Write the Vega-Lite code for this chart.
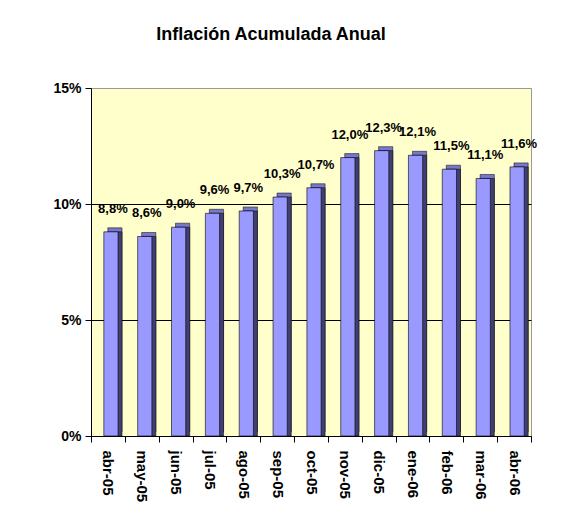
{
  "$schema": "https://vega.github.io/schema/vega-lite/v6.json",
  "width": 440,
  "height": 348,
  "autosize": "none",
  "padding": {"left": 91, "top": 88, "right": 32, "bottom": 77},
  "background": "white",
  "title": {
    "text": "Inflación Acumulada Anual",
    "font": "Liberation Sans",
    "fontSize": 18,
    "fontWeight": "bold",
    "color": "black",
    "anchor": "middle",
    "dx": -40,
    "offset": 37
  },
  "data": {
    "values": [
      {"mes": "abr-05", "valor": 8.8, "etiqueta": "8,8%"},
      {"mes": "may-05", "valor": 8.6, "etiqueta": "8,6%"},
      {"mes": "jun-05", "valor": 9.0, "etiqueta": "9,0%"},
      {"mes": "jul-05", "valor": 9.6, "etiqueta": "9,6%"},
      {"mes": "ago-05", "valor": 9.7, "etiqueta": "9,7%"},
      {"mes": "sep-05", "valor": 10.3, "etiqueta": "10,3%"},
      {"mes": "oct-05", "valor": 10.7, "etiqueta": "10,7%"},
      {"mes": "nov-05", "valor": 12.0, "etiqueta": "12,0%"},
      {"mes": "dic-05", "valor": 12.3, "etiqueta": "12,3%"},
      {"mes": "ene-06", "valor": 12.1, "etiqueta": "12,1%"},
      {"mes": "feb-06", "valor": 11.5, "etiqueta": "11,5%"},
      {"mes": "mar-06", "valor": 11.1, "etiqueta": "11,1%"},
      {"mes": "abr-06", "valor": 11.6, "etiqueta": "11,6%"}
    ]
  },
  "encoding": {
    "x": {
      "field": "mes",
      "type": "nominal",
      "sort": null,
      "scale": {"paddingInner": 0, "paddingOuter": 0},
      "axis": {
        "title": null,
        "labelAngle": 90,
        "labelAlign": "left",
        "labelBaseline": "middle",
        "labelFont": "Liberation Sans",
        "labelFontSize": 15,
        "labelFontWeight": "bold",
        "labelColor": "black",
        "labelPadding": 8,
        "tickBand": "extent",
        "tickColor": "black",
        "tickSize": 6,
        "domainColor": "black",
        "grid": false
      }
    },
    "y": {
      "field": "valor",
      "type": "quantitative",
      "scale": {"domain": [0, 15]},
      "axis": {
        "title": null,
        "values": [0, 5, 10, 15],
        "labelExpr": "datum.value + '%'",
        "labelFont": "Liberation Sans",
        "labelFontSize": 14,
        "labelFontWeight": "bold",
        "labelColor": "black",
        "labelPadding": 4,
        "tickColor": "black",
        "tickSize": 6,
        "domainColor": "black",
        "grid": true,
        "gridColor": {"condition": {"test": "datum.value === 15", "value": "#999999"}, "value": "black"},
        "gridOpacity": 1
      }
    }
  },
  "layer": [
    {
      "mark": {"type": "bar", "color": "#7777CC", "width": {"band": 0.42}, "xOffset": 7, "x2Offset": 7, "yOffset": -4, "y2Offset": -4, "stroke": "black", "strokeWidth": 0.5},
      "encoding": {}
    },
    {
      "mark": {"type": "bar", "color": "#3F3F70", "width": {"band": 0.42}, "xOffset": 7, "x2Offset": 7, "stroke": "black", "strokeWidth": 0.5},
      "encoding": {}
    },
    {
      "mark": {"type": "bar", "color": "#9999FF", "width": {"band": 0.42}, "xOffset": 3, "x2Offset": 3, "stroke": "black", "strokeWidth": 0.6},
      "encoding": {}
    },
    {
      "mark": {"type": "text", "font": "Liberation Sans", "fontSize": 13, "fontWeight": "bold", "color": "black", "baseline": "bottom", "dy": -16, "dx": 5},
      "encoding": {"text": {"field": "etiqueta"}}
    }
  ],
  "config": {
    "view": {"fill": "#FFFFCC", "stroke": "#999999", "strokeWidth": 1}
  }
}
